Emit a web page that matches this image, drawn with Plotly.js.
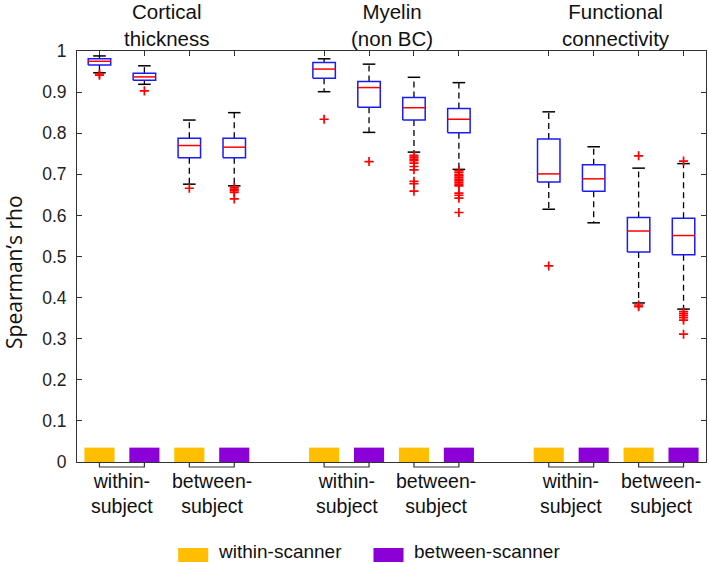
<!DOCTYPE html>
<html>
<head>
<meta charset="utf-8">
<script src="https://cdn.plot.ly/plotly-3.0.1.min.js"></script>
<style>html,body{margin:0;padding:0;background:#fff;}#chart{width:709px;height:564px;}</style>
</head>
<body>
<div id="chart"></div>
<script>
// ---- data ----
var positions = [1, 2, 3, 4, 6, 7, 8, 9, 11, 12, 13, 14];
var upperWhisker = [0.988, 0.964, 0.832, 0.850, 0.981, 0.968, 0.936, 0.923, 0.852, 0.767, 0.715, 0.726];
var q3 = [0.981, 0.946, 0.788, 0.788, 0.972, 0.926, 0.887, 0.860, 0.786, 0.723, 0.595, 0.593];
var medians = [0.975, 0.937, 0.770, 0.766, 0.956, 0.911, 0.862, 0.834, 0.701, 0.689, 0.562, 0.551];
var q1 = [0.966, 0.929, 0.740, 0.740, 0.934, 0.863, 0.832, 0.801, 0.681, 0.659, 0.511, 0.504];
var lowerWhisker = [0.947, 0.919, 0.676, 0.672, 0.901, 0.802, 0.754, 0.712, 0.615, 0.582, 0.387, 0.372];
var outliers = [
  [0.944, 0.941],
  [0.903],
  [0.666],
  [0.668, 0.664, 0.660, 0.656, 0.640],
  [0.834],
  [0.731],
  [0.746, 0.742, 0.737, 0.733, 0.727, 0.719, 0.711, 0.683, 0.677, 0.659],
  [0.709, 0.705, 0.700, 0.696, 0.692, 0.688, 0.684, 0.680, 0.676, 0.672, 0.654, 0.649, 0.642, 0.607],
  [0.477],
  [],
  [0.745, 0.382, 0.378],
  [0.732, 0.366, 0.361, 0.356, 0.351, 0.345, 0.311]
];
var withinScannerPos = [1, 3, 6, 8, 11, 13];
var betweenScannerPos = [2, 4, 7, 9, 12, 14];
var markerBarHeight = 0.035;
var groupTitles = ["Cortical<br>thickness", "Myelin<br>(non BC)", "Functional<br>connectivity"];
var groupCenters = [2.5, 7.5, 12.5];
var pairLabels = ["within-<br>subject", "between-<br>subject", "within-<br>subject", "between-<br>subject", "within-<br>subject", "between-<br>subject"];
var pairStarts = [1, 3, 6, 8, 11, 13];
var yTicks = [0, 0.1, 0.2, 0.3, 0.4, 0.5, 0.6, 0.7, 0.8, 0.9, 1];
var legendNames = ["within-scanner", "between-scanner"];
var yellow = "#FFBE00", purple = "#8A00D6";

// ---- build traces ----
var BW = 0.25, CW = 0.14;
var bx = [], by = [], mx = [], my = [], wx = [], wy = [], cx = [], cy = [], ox = [], oy = [];
positions.forEach(function (p, i) {
  bx.push(p - BW, p + BW, p + BW, p - BW, p - BW, null);
  by.push(q1[i], q1[i], q3[i], q3[i], q1[i], null);
  mx.push(p - BW, p + BW, null); my.push(medians[i], medians[i], null);
  wx.push(p, p, null, p, p, null);
  wy.push(q3[i], upperWhisker[i], null, q1[i], lowerWhisker[i], null);
  cx.push(p - CW, p + CW, null, p - CW, p + CW, null);
  cy.push(upperWhisker[i], upperWhisker[i], null, lowerWhisker[i], lowerWhisker[i], null);
  outliers[i].forEach(function (v) { ox.push(p); oy.push(v); });
});

var traces = [
  {type: "bar", x: withinScannerPos, y: withinScannerPos.map(function(){return markerBarHeight;}), width: 0.67,
   marker: {color: yellow, line: {width: 0}}, hoverinfo: "skip"},
  {type: "bar", x: betweenScannerPos, y: betweenScannerPos.map(function(){return markerBarHeight;}), width: 0.67,
   marker: {color: purple, line: {width: 0}}, hoverinfo: "skip"},
  {type: "scatter", mode: "lines", x: wx, y: wy, line: {color: "#000", width: 1.3, dash: "6px,4px"}},
  {type: "scatter", mode: "lines", x: cx, y: cy, line: {color: "#000", width: 1.5}},
  {type: "scatter", mode: "lines", x: bx, y: by, line: {color: "#1a1aff", width: 1.5}},
  {type: "scatter", mode: "lines", x: mx, y: my, line: {color: "#ff0000", width: 1.5}},
  {type: "scatter", mode: "markers", x: ox, y: oy, cliponaxis: false,
   marker: {symbol: "cross-thin", size: 6.5, color: "#ff0000", line: {color: "#ff0000", width: 1.7}}}
];

// ---- annotations / shapes ----
var annotations = [];
var shapes = [];
var pxY = function (py) { return (462 - py) / 411; };
var pxX = function (px) { return (px - 77) / 628; };
var txtFont = "Liberation Sans, Arial, sans-serif";

groupTitles.forEach(function (t, i) {
  annotations.push({text: t, x: groupCenters[i], xref: "x", y: pxY(25), yref: "paper",
    xanchor: "center", yanchor: "middle", showarrow: false,
    font: {family: txtFont, size: 20.5, color: "#111"}});
});
pairLabels.forEach(function (t, i) {
  var s = pairStarts[i];
  annotations.push({text: t, x: s + 0.5, xref: "x", y: pxY(494), yref: "paper",
    xanchor: "center", yanchor: "middle", showarrow: false,
    font: {family: txtFont, size: 19.5, color: "#111"}});
  shapes.push({type: "path", xref: "x", yref: "paper",
    path: "M" + s + "," + pxY(462) + " L" + s + "," + pxY(467) + " L" + (s + 1) + "," + pxY(467) + " L" + (s + 1) + "," + pxY(462),
    line: {color: "#333", width: 1.2}});
});

annotations.push({text: "Spearman\u2019s rho", x: pxX(14), xref: "paper", y: pxY(272), yref: "paper",
  textangle: -90, xanchor: "center", yanchor: "middle", showarrow: false,
  font: {family: "Open Sans, Noto Sans, sans-serif", size: 21, color: "#111"}});

// legend
shapes.push({type: "rect", xref: "paper", yref: "paper", x0: pxX(178), x1: pxX(208), y0: pxY(562), y1: pxY(548),
  fillcolor: yellow, line: {width: 0}});
shapes.push({type: "rect", xref: "paper", yref: "paper", x0: pxX(373), x1: pxX(403), y0: pxY(562), y1: pxY(548),
  fillcolor: purple, line: {width: 0}});
annotations.push({text: legendNames[0], x: pxX(216), xref: "paper", y: pxY(551), yref: "paper",
  xanchor: "left", yanchor: "middle", showarrow: false,
  font: {family: txtFont, size: 19, color: "#111"}});
annotations.push({text: legendNames[1], x: pxX(411), xref: "paper", y: pxY(551), yref: "paper",
  xanchor: "left", yanchor: "middle", showarrow: false,
  font: {family: txtFont, size: 19, color: "#111"}});

var layout = {
  width: 709, height: 564,
  margin: {l: 77, r: 3, t: 51, b: 102, pad: 0},
  paper_bgcolor: "#fff", plot_bgcolor: "#fff",
  showlegend: false,
  barmode: "overlay",
  xaxis: {range: [0.5, 14.5], showgrid: false, zeroline: false, showline: true, mirror: "allticks",
    linecolor: "#333", linewidth: 1, ticks: "inside", ticklen: 5, tickcolor: "#333",
    tickvals: positions, showticklabels: false, layer: "below traces", fixedrange: true},
  yaxis: {range: [0, 1], showgrid: false, zeroline: false, showline: true, mirror: "allticks",
    linecolor: "#333", linewidth: 1, ticks: "inside", ticklen: 5, tickcolor: "#333",
    tickvals: yTicks, ticktext: yTicks.map(function (v) { return String(v); }),
    ticklabelstandoff: 6,
    tickfont: {family: txtFont, size: 17.5, color: "#222"}, fixedrange: true},
  annotations: annotations,
  shapes: shapes
};

Plotly.newPlot("chart", traces, layout, {displayModeBar: false, staticPlot: true});
</script>
</body>
</html>
